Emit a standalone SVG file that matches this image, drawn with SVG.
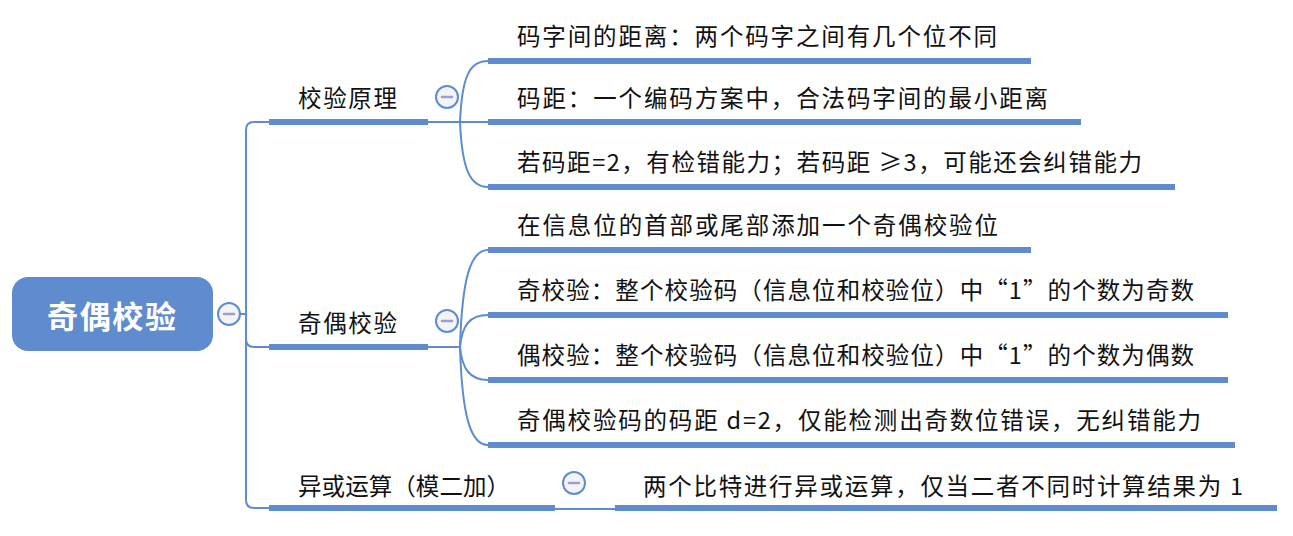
<svg xmlns="http://www.w3.org/2000/svg" width="1293" height="536" viewBox="0 0 1293 536">
<style>
.t{font-family:"Noto Sans CJK SC","Noto Sans",sans-serif;font-size:23.5px;fill:#111111;dominant-baseline:central}
.root{font-family:"Noto Sans CJK SC","Noto Sans",sans-serif;font-size:31px;font-weight:bold;fill:#ffffff;dominant-baseline:central}
.ul{stroke:#5f8ccf;stroke-width:6;fill:none}
.cn{stroke:#5f8ccf;stroke-width:2;fill:none}
.cc{fill:#f3f3f8;stroke:#5f8ccf;stroke-width:2}
.mn{stroke:#9c9fcf;stroke-width:2.5;stroke-linecap:round}
</style>
<rect width="1293" height="536" fill="#ffffff"/>
<g id="connectors">
<path class="cn" d="M240,314 H246"/>
<path class="cn" d="M269,122 H254 Q246,122 246,130 V500 Q246,508 254,508 H269"/>
<path class="cn" d="M246,339 Q246,347 254,347 H269"/>
<path class="cn" d="M428,122 H488"/>
<path class="cn" d="M460,122 C462,75 470,61 488,61"/>
<path class="cn" d="M460,122 C462,169 470,187 488,187"/>
<path class="cn" d="M428,347 H460"/>
<path class="cn" d="M460,347 C462,280 470,250 488,250"/>
<path class="cn" d="M460,347 C462,325 470,315 488,315"/>
<path class="cn" d="M460,347 C462,369 470,380 488,380"/>
<path class="cn" d="M460,347 C462,414 470,445 488,445"/>
<path class="cn" d="M555,509 H615"/>
</g>
<g id="root">
<rect x="12" y="277" width="201" height="74" rx="16" fill="#5f8ccf"/>
<text class="root" x="47" y="314" textLength="129" lengthAdjust="spacing">奇偶校验</text>
<circle class="cc" cx="229" cy="314" r="11"/>
<line class="mn" x1="224" y1="314" x2="234" y2="314"/>
</g>
<g id="branch-principle">
<text class="t" x="298" y="97" textLength="99" lengthAdjust="spacing">校验原理</text>
<line class="ul" x1="269" y1="122" x2="428" y2="122"/>
<circle class="cc" cx="447" cy="97" r="11"/>
<line class="mn" x1="442" y1="97" x2="452" y2="97"/>
</g>
<g id="p1">
<text class="t" x="517" y="35" textLength="480" lengthAdjust="spacing">码字间的距离：两个码字之间有几个位不同</text>
<line class="ul" x1="488" y1="61" x2="1031" y2="61"/>
</g>
<g id="p2">
<text class="t" x="517" y="97" textLength="531" lengthAdjust="spacing">码距：一个编码方案中，合法码字间的最小距离</text>
<line class="ul" x1="488" y1="122" x2="1081" y2="122"/>
</g>
<g id="p3">
<text class="t" x="517" y="161" textLength="625" lengthAdjust="spacing">若码距=2，有检错能力；若码距 ≥3，可能还会纠错能力</text>
<line class="ul" x1="488" y1="187" x2="1175" y2="187"/>
</g>
<g id="branch-parity">
<text class="t" x="298" y="322" textLength="99" lengthAdjust="spacing">奇偶校验</text>
<line class="ul" x1="269" y1="347" x2="428" y2="347"/>
<circle class="cc" cx="447" cy="321" r="11"/>
<line class="mn" x1="442" y1="321" x2="452" y2="321"/>
</g>
<g id="q1">
<text class="t" x="517" y="224" textLength="481" lengthAdjust="spacing">在信息位的首部或尾部添加一个奇偶校验位</text>
<line class="ul" x1="488" y1="250" x2="1031" y2="250"/>
</g>
<g id="q2">
<text class="t" x="517" y="289" textLength="677" lengthAdjust="spacing">奇校验：整个校验码（信息位和校验位）中“1”的个数为奇数</text>
<line class="ul" x1="488" y1="315" x2="1228" y2="315"/>
</g>
<g id="q3">
<text class="t" x="517" y="354" textLength="677" lengthAdjust="spacing">偶校验：整个校验码（信息位和校验位）中“1”的个数为偶数</text>
<line class="ul" x1="488" y1="380" x2="1228" y2="380"/>
</g>
<g id="q4">
<text class="t" x="517" y="419" textLength="684" lengthAdjust="spacing">奇偶校验码的码距 d=2，仅能检测出奇数位错误，无纠错能力</text>
<line class="ul" x1="488" y1="445" x2="1235" y2="445"/>
</g>
<g id="branch-xor">
<text class="t" x="298" y="485" textLength="212" lengthAdjust="spacing">异或运算（模二加）</text>
<line class="ul" x1="269" y1="508" x2="555" y2="508"/>
<circle class="cc" cx="574" cy="483" r="11"/>
<line class="mn" x1="569" y1="483" x2="579" y2="483"/>
</g>
<g id="x1">
<text class="t" x="643" y="485" textLength="600" lengthAdjust="spacing">两个比特进行异或运算，仅当二者不同时计算结果为 1</text>
<line class="ul" x1="615" y1="508" x2="1277" y2="508"/>
</g>
</svg>
